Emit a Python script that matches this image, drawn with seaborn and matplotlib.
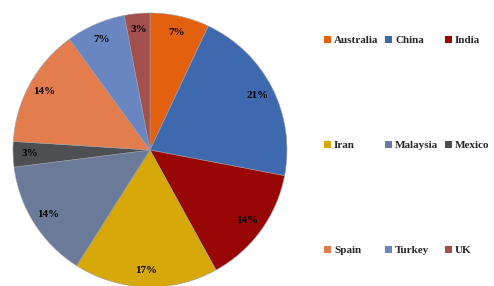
import matplotlib.pyplot as plt
import seaborn as sns
from matplotlib.patches import Patch

countries = ['Australia', 'China', 'India', 'Iran', 'Malaysia', 'Mexico', 'Spain', 'Turkey', 'UK']
shares = [7, 21, 14, 17, 14, 3, 14, 7, 3]
colors = ['#E2600E', '#3F69AE', '#990606', '#D6A808', '#6C7A99',
          '#4E4F52', '#E37D4E', '#6A86C2', '#A34F4D']

sns.set_theme(style='white')
plt.rcParams['font.family'] = ['Liberation Serif', 'DejaVu Serif']

fig = plt.figure(figsize=(4.94, 2.86), dpi=100)
ax = fig.add_axes([13 / 494, -1 / 286, 274 / 494, 274 / 286])

wedges, texts, autotexts = ax.pie(
    shares, colors=colors, startangle=90, counterclock=False,
    autopct='%d%%', pctdistance=0.88,
    wedgeprops=dict(linewidth=0.4, edgecolor='#9aa0aa'),
    textprops=dict(fontsize=8, fontweight='bold', color='black'))
for w in wedges:
    w.set_clip_on(False)
ax.set_xlim(-1, 1)
ax.set_ylim(-1, 1)
ax.set_aspect('equal')

# legend laid out row by row like the original (matplotlib fills columns)
order = [0, 3, 6, 1, 4, 7, 2, 5, 8]
handles = [Patch(facecolor=colors[i], edgecolor='none') for i in order]
labels = [countries[i] for i in order]
fig.legend(handles, labels, ncol=3, loc='upper left',
           bbox_to_anchor=(324 / 494, 1 - 36 / 286), frameon=False,
           prop=dict(size=8, weight='bold'), handlelength=0.6, handleheight=0.6,
           handletextpad=0.3, columnspacing=0.6, labelspacing=8.6,
           borderpad=0, borderaxespad=0)

fig.savefig('out.png', dpi=100)
